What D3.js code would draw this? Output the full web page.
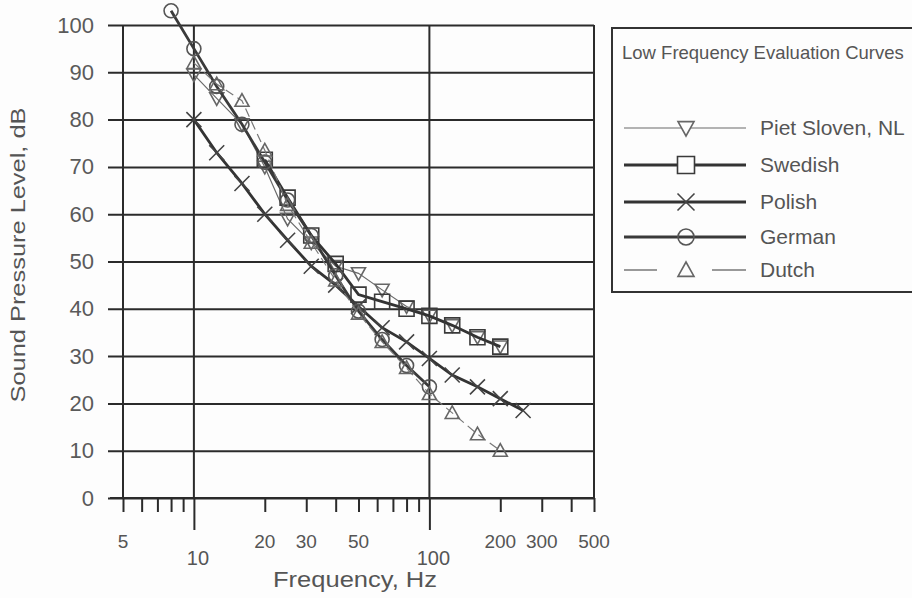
<!DOCTYPE html>
<html>
<head>
<meta charset="utf-8">
<script src="https://cdn.jsdelivr.net/npm/d3@7"></script>
<style>
  html, body { margin: 0; padding: 0; background: #fdfdfd; }
  svg { display: block; }
  text { font-family: "Liberation Sans", Arial, sans-serif; fill: #555; }
</style>
</head>
<body>
<svg id="chart" width="912" height="598"></svg>
<script>
// ---------------- data ----------------
const pietFreq    = [10, 12.5, 16, 20, 25, 31.5, 40, 50, 63, 80, 100, 125, 160, 200];
const pietVals    = [89.5, 84.5, 79, 70, 59, 54, 49, 47.5, 44, 40.5, 38.5, 36.5, 34, 32];
const swedishFreq = [20, 25, 31.5, 40, 50, 63, 80, 100, 125, 160, 200];
const swedishVals = [71.5, 63.5, 55.5, 49.5, 43, 41.5, 40, 38.5, 36.5, 34, 32];
const polishFreq  = [10, 12.5, 16, 20, 25, 31.5, 40, 50, 63, 80, 100, 125, 160, 200, 250];
const polishVals  = [80, 73, 66.5, 60, 54.5, 49, 45, 40.5, 36, 33, 29.5, 26, 23.5, 21, 18.5];
const germanFreq  = [8, 10, 12.5, 16, 20, 25, 31.5, 40, 50, 63, 80, 100];
const germanVals  = [103, 95, 87, 79, 71, 63, 55.5, 47, 39.5, 33.5, 28, 23.5];
const dutchFreq   = [10, 12.5, 16, 20, 25, 31.5, 40, 50, 63, 80, 100, 125, 160, 200];
const dutchVals   = [92, 87.5, 84, 73.5, 62, 54, 46, 39, 33, 27.5, 22, 18, 13.5, 10];

const seriesNames = ["Piet Sloven, NL", "Swedish", "Polish", "German", "Dutch"];
const yTicks = [0, 10, 20, 30, 40, 50, 60, 70, 80, 90, 100];
const xMinorTicks = [5, 6, 7, 8, 9, 20, 30, 40, 50, 60, 70, 80, 90, 200, 300, 400, 500];
const xMajorTicks = [10, 100];
const xUpperLabels = [5, 20, 30, 50, 200, 300, 500];
const xLowerLabels = [10, 100];
const xGridLines = [5, 10, 100, 500];
const legendTitle = "Low Frequency Evaluation Curves";
const xTitle = "Frequency, Hz";
const yTitle = "Sound Pressure Level, dB";

// ---------------- setup ----------------
const svg = d3.select("#chart");
const x = d3.scaleLog().domain([5, 500]).range([123, 594]);
const y = d3.scaleLinear().domain([0, 100]).range([498, 25]);

const gridColor = "#2b2b2b";

// horizontal grid + y labels
const yAxis = d3.axisLeft(y).tickValues(yTicks).tickSize(-(594 - 108)).tickPadding(14).tickFormat(d3.format("d"));
const gy = svg.append("g").attr("transform", "translate(108,0)").call(yAxis);
gy.select(".domain").remove();
gy.selectAll(".tick line").attr("stroke", gridColor).attr("stroke-width", 2);
gy.selectAll(".tick text").attr("font-size", 22).style("fill", "#5a5a5a")
  .attr("font-family", "'Liberation Sans', Arial, sans-serif");

// vertical grid lines
svg.append("g").selectAll("line").data(xGridLines).join("line")
  .attr("x1", d => x(d)).attr("x2", d => x(d))
  .attr("y1", y(100)).attr("y2", y(0))
  .attr("stroke", gridColor).attr("stroke-width", 2);

// x axis line
svg.append("line").attr("x1", 110).attr("x2", 594).attr("y1", y(0)).attr("y2", y(0))
  .attr("stroke", gridColor).attr("stroke-width", 2);

// minor ticks
const gxMinor = svg.append("g").attr("transform", `translate(0,${y(0)})`)
  .call(d3.axisBottom(x).tickValues(xMinorTicks).tickSize(14).tickFormat(""));
gxMinor.select(".domain").remove();
gxMinor.selectAll(".tick line").attr("stroke", gridColor).attr("stroke-width", 2);

// major ticks
const gxMajor = svg.append("g").attr("transform", `translate(0,${y(0)})`)
  .call(d3.axisBottom(x).tickValues(xMajorTicks).tickSize(32).tickFormat(""));
gxMajor.select(".domain").remove();
gxMajor.selectAll(".tick line").attr("stroke", gridColor).attr("stroke-width", 2);

// x labels
svg.append("g").selectAll("text").data(xUpperLabels).join("text")
  .attr("x", d => x(d)).attr("y", 548).attr("text-anchor", "middle")
  .attr("font-size", 19).text(d => d);
svg.append("g").selectAll("text").data(xLowerLabels).join("text")
  .attr("x", d => x(d) + 4).attr("y", 565).attr("text-anchor", "middle")
  .attr("font-size", 20).text(d => d);

// axis titles
svg.append("text").attr("x", 355).attr("y", 587).attr("text-anchor", "middle")
  .attr("font-size", 22).attr("textLength", 164).attr("lengthAdjust", "spacingAndGlyphs").text(xTitle);
svg.append("text").attr("transform", "translate(25,255) rotate(-90)").attr("text-anchor", "middle")
  .attr("font-size", 21).attr("textLength", 295).attr("lengthAdjust", "spacingAndGlyphs").text(yTitle);

// ---------------- markers ----------------
function markerPath(type, s) {
  const h = s / 2;
  switch (type) {
    case "square": return `M${-h},${-h}H${h}V${h}H${-h}Z`;
    case "x": return `M${-h},${-h}L${h},${h}M${-h},${h}L${h},${-h}`;
    case "circle": return `M${h},0A${h},${h} 0 1,1 ${-h},0A${h},${h} 0 1,1 ${h},0Z`;
    case "tri": return `M0,${-h}L${h},${h * 0.8}L${-h},${h * 0.8}Z`;
    case "dtri": return `M${-h},${-h * 0.8}L${h},${-h * 0.8}L0,${h}Z`;
  }
}

const series = [
  { name: seriesNames[0], f: pietFreq, v: pietVals, width: 1.2, color: "#6a6a6a", dash: null, marker: "dtri", ms: 14, mcolor: "#666" },
  { name: seriesNames[1], f: swedishFreq, v: swedishVals, width: 2.8, color: "#333", dash: null, marker: "square", ms: 15, mcolor: "#3a3a3a" },
  { name: seriesNames[2], f: polishFreq, v: polishVals, width: 2.8, color: "#333", dash: null, marker: "x", ms: 15, mcolor: "#444" },
  { name: seriesNames[3], f: germanFreq, v: germanVals, width: 2.8, color: "#3a3a3a", dash: null, marker: "circle", ms: 14, mcolor: "#555" },
  { name: seriesNames[4], f: dutchFreq, v: dutchVals, width: 1.2, color: "#777", dash: "9,5", marker: "tri", ms: 14, mcolor: "#666" }
];

const line = d3.line().x(d => x(d[0])).y(d => y(d[1]));

series.forEach(s => {
  const pts = s.f.map((f, i) => [f, s.v[i]]);
  svg.append("path").datum(pts)
    .attr("d", line).attr("fill", "none")
    .attr("stroke", s.color).attr("stroke-width", s.width)
    .attr("stroke-dasharray", s.dash);
  svg.append("g").selectAll("path").data(pts).join("path")
    .attr("transform", d => `translate(${x(d[0])},${y(d[1])})`)
    .attr("d", markerPath(s.marker, s.ms))
    .attr("fill", "none").attr("stroke", s.mcolor).attr("stroke-width", 1.6);
});

// ---------------- legend ----------------
const lg = svg.append("g");
lg.append("rect").attr("x", 612).attr("y", 28).attr("width", 320).attr("height", 264)
  .attr("fill", "#fdfdfd").attr("stroke", "#333").attr("stroke-width", 2);
lg.append("text").attr("x", 622).attr("y", 59).attr("font-size", 18.5).text(legendTitle);

const legendY = [128, 165, 202, 237, 270];
series.forEach((s, i) => {
  const yy = legendY[i];
  if (s.dash) {
    lg.append("line").attr("x1", 624).attr("x2", 657).attr("y1", yy).attr("y2", yy)
      .attr("stroke", s.color).attr("stroke-width", 1.5);
    lg.append("line").attr("x1", 712).attr("x2", 746).attr("y1", yy).attr("y2", yy)
      .attr("stroke", s.color).attr("stroke-width", 1.5);
  } else {
    lg.append("line").attr("x1", 624).attr("x2", 746).attr("y1", yy).attr("y2", yy)
      .attr("stroke", s.color).attr("stroke-width", s.width);
  }
  lg.append("path").attr("transform", `translate(686,${yy})`)
    .attr("d", markerPath(s.marker, s.ms + 2))
    .attr("fill", s.marker === "x" || s.marker === "circle" ? "none" : "#fdfdfd")
    .attr("stroke", s.mcolor).attr("stroke-width", 1.6);
  lg.append("text").attr("x", 760).attr("y", yy).attr("dy", "0.35em")
    .attr("font-size", 21).text(s.name);
});
</script>
</body>
</html>
